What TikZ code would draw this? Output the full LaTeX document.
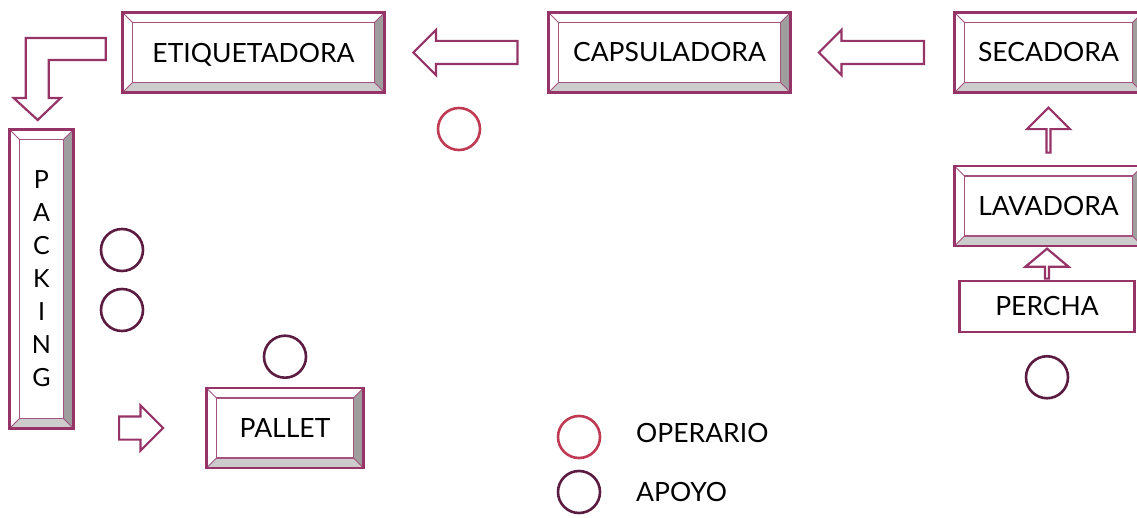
\documentclass[tikz,border=0pt]{standalone}
\usepackage{fontspec}
\setmainfont{Lato}
\usetikzlibrary{calc,positioning,shapes.arrows}
\definecolor{linea}{RGB}{150,52,104}
\definecolor{rojoop}{RGB}{192,58,84}
\definecolor{moradoap}{RGB}{92,28,66}
\definecolor{biselbajo}{RGB}{204,204,204}
\definecolor{biseldcho}{RGB}{158,158,158}
\newcommand{\rotulo}{\fontsize{26.5}{30}\selectfont}
\tikzset{%
	maquina/.style  = {draw=linea, line width=2.6pt, fill=white, rectangle, inner sep=0pt,
		minimum height=80pt, font=\rotulo, text=black,
		path picture={
			\coordinate (b1) at (path picture bounding box.south west);
			\coordinate (b2) at (path picture bounding box.south east);
			\coordinate (b3) at (path picture bounding box.north east);
			\coordinate (b4) at (path picture bounding box.north west);
			\coordinate (i1) at ([shift={(10pt,10pt)}]b1);
			\coordinate (i2) at ([shift={(-10pt,10pt)}]b2);
			\coordinate (i3) at ([shift={(-10pt,-10pt)}]b3);
			\coordinate (i4) at ([shift={(10pt,-10pt)}]b4);
			\fill[biselbajo] (b1) -- (b2) -- (i2) -- (i1) -- cycle;
			\fill[biseldcho] (b2) -- (b3) -- (i3) -- (i2) -- cycle;
			\draw[linea!85, line width=1.3pt] (i1) rectangle (i3);
			\draw[linea!85, line width=0.8pt] (b1) -- (i1) (b2) -- (i2) (b3) -- (i3) (b4) -- (i4);
		}}, % maquina con bisel
	caja/.style     = {draw=linea, line width=2.5pt, fill=white, rectangle, inner sep=0pt,
		minimum height=50pt, font=\rotulo},
	flecha/.style   = {single arrow, draw=linea, line width=2.2pt, fill=white,
		minimum width=43pt, inner xsep=0pt, inner ysep=10.5pt,
		single arrow head extend=11pt, single arrow tip angle=90, anchor=tail},
	operario/.style = {draw=rojoop, circle, line width=2.6pt, minimum size=42pt, inner sep=0pt, outer sep=0pt},
	apoyo/.style    = {draw=moradoap, circle, line width=2.6pt, minimum size=42pt, inner sep=0pt, outer sep=0pt},
	leyenda/.style  = {font=\rotulo, inner sep=0pt},
}
\begin{document}
\begin{tikzpicture}[x=1pt, y=-1pt]
	\useasboundingbox (0,0) rectangle (1137,518);

	% linea de proceso
	\node[maquina, minimum width=262pt, text depth=0pt] (etiq) at (253.5,52.5) {ETIQUETADORA};
	\node[maquina, minimum width=242pt] (caps) at (669.5,52.5) {CAPSULADORA};
	\node[maquina, minimum width=188pt] (seca) at (1048.5,52.5) {SECADORA};
	\node[maquina, minimum width=188pt] (lava) at (1048.5,206) {LAVADORA};
	\node[caja, minimum width=175pt, minimum height=51pt] (percha) at (1047,306.5) {PERCHA};
	\node[maquina, minimum width=64pt, minimum height=299pt, align=center,
		font=\fontsize{25}{33}\selectfont] (pack) at (41.5,279) {P\\A\\C\\K\\I\\N\\G};
	\node[maquina, minimum width=157pt] (pallet) at (285,428) {PALLET};

	% flechas
	\node[flecha, shape border rotate=180, minimum height=104pt] (f1) at ($(caps.west)!0.5!(etiq.east)+(52,0)$) {};
	\node[flecha, shape border rotate=180, minimum height=105pt] (f2) at ($(seca.west)!0.5!(caps.east)+(52.5,0)$) {};
	\node[flecha, shape border rotate=90, minimum height=45pt] (f3) at ($(lava.north)!0.5!(seca.south)+(0,24.5)$) {};
	\node[flecha, shape border rotate=90, minimum height=30pt, single arrow tip angle=100] (f4) at (percha.north) {};
	\node[flecha, minimum height=44pt] (f5) at ($(pack.east |- pallet.west)!0.5!(pallet.west)+(-22,0)$) {};
	\draw[draw=linea, line width=2.2pt, fill=white, line join=miter]
		([xshift=-15.5pt, yshift=14.5pt]etiq.west) -- ++(-80,0) -- ++(0,60) -- ++(-12,0)
		-- ++(24,22) -- ++(23,-22) -- ++(-12,0) -- ++(0,-38) -- ++(57,0) -- cycle;

	% personal
	\node[operario] (op1) at (459,129) {};
	\node[apoyo] (ap1) at (122,250) {};
	\node[apoyo] (ap2) at (122,310) {};
	\node[apoyo, above=9pt of pallet] (ap3) {};
	\node[apoyo, below=23pt of percha] (ap4) {};

	% leyenda
	\node[operario] (leyop) at (579,437) {};
	\node[apoyo] (leyap) at (579,492) {};
	\node[leyenda, right=36pt of leyop, yshift=4pt] (txtop) {OPERARIO};
	\node[leyenda, right=36pt of leyap] (txtap) {APOYO};
\end{tikzpicture}
\end{document}
